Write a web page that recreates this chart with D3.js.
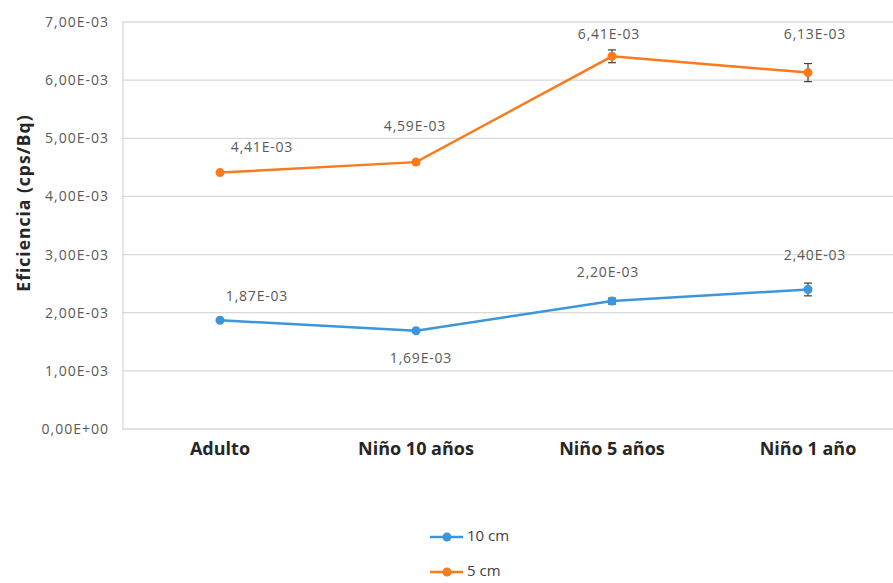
<!DOCTYPE html>
<html><head><meta charset="utf-8">
<script src="https://cdn.jsdelivr.net/npm/d3@7"></script>
<style>body{margin:0;background:#fff}svg{display:block}</style>
</head><body><svg id="c" width="893" height="583"></svg>
<script>
const categories = ["Adulto", "Niño 10 años", "Niño 5 años", "Niño 1 año"];
const seriesNames = ["10 cm", "5 cm"];
const values10cm = [1.87e-3, 1.69e-3, 2.20e-3, 2.40e-3];
const values5cm = [4.41e-3, 4.59e-3, 6.41e-3, 6.13e-3];
const errors10cm = [0.02e-3, 0.02e-3, 0.05e-3, 0.11e-3];
const errors5cm = [0.02e-3, 0.03e-3, 0.11e-3, 0.155e-3];
const yTicks = [0, 1e-3, 2e-3, 3e-3, 4e-3, 5e-3, 6e-3, 7e-3];
const colors = ["#3c96dc", "#fb7a1c"];
// label offsets (layout) per series/point
const labelOffsets10 = [[37, -23], [5, 29], [-4, -28], [7, -33]];
const labelOffsets5 = [[42, -24], [-1, -35], [-3, -21], [7, -37]];

const fmt = v => v.toExponential(2).replace(".", ",").replace(/e([+-])(\d)$/, "E$10$2").toUpperCase();
const FONT = "'Open Sans', sans-serif";

const svg = d3.select("#c");
const x = d3.scaleBand().domain(categories).range([122, 906]);
const y = d3.scaleLinear().domain([0, 7e-3]).range([429, 22]);

// gridlines
svg.append("g").selectAll("line").data(yTicks).join("line")
  .attr("x1", 122).attr("x2", 893).attr("y1", d => y(d)).attr("y2", d => y(d))
  .attr("stroke", "#d9d9d9").attr("stroke-width", 1.3);
// left axis line
svg.append("line").attr("x1", 123).attr("x2", 123).attr("y1", y(7e-3)).attr("y2", y(0))
  .attr("stroke", "#d9d9d9").attr("stroke-width", 1.3);

const yAxis = d3.axisLeft(y).tickValues(yTicks).tickFormat(fmt).tickSize(0).tickPadding(14);
const gy = svg.append("g").attr("transform", "translate(123,0)").call(yAxis);
gy.select(".domain").remove();
gy.selectAll("text").attr("font-family", FONT).attr("font-size", 14).attr("letter-spacing", 1)
  .attr("fill", "#595959");

const xAxis = d3.axisBottom(x).tickSize(0).tickPadding(13);
const gx = svg.append("g").attr("transform", "translate(0,429)").call(xAxis);
gx.select(".domain").remove();
gx.selectAll("text").attr("font-family", FONT).attr("font-size", 18)
  .attr("font-weight", "bold").attr("fill", "#262626");

svg.append("text").attr("transform", "translate(30,203) rotate(-90)")
  .attr("text-anchor", "middle").attr("font-family", FONT)
  .attr("font-size", 17.5).attr("font-weight", "bold").attr("letter-spacing", 1).attr("fill", "#262626")
  .text("Eficiencia (cps/Bq)");

const series = [
  {vals: values10cm, errs: errors10cm, offs: labelOffsets10, color: colors[0]},
  {vals: values5cm, errs: errors5cm, offs: labelOffsets5, color: colors[1]}
];
const cx = c => x(c) + x.bandwidth() / 2;
const line = d3.line().x((d, i) => cx(categories[i])).y(d => y(d));

series.forEach(s => {
  const g = svg.append("g");
  g.append("path").attr("d", line(s.vals)).attr("fill", "none")
    .attr("stroke", s.color).attr("stroke-width", 2.5);
  s.vals.forEach((v, i) => {
    const px = cx(categories[i]);
    const e = s.errs[i];
    g.append("line").attr("x1", px).attr("x2", px).attr("y1", y(v + e)).attr("y2", y(v - e))
      .attr("stroke", "#404040").attr("stroke-width", 1.2);
    [v + e, v - e].forEach(w => g.append("line").attr("x1", px - 4).attr("x2", px + 4)
      .attr("y1", y(w)).attr("y2", y(w)).attr("stroke", "#404040").attr("stroke-width", 1.2));
    g.append("circle").attr("cx", px).attr("cy", y(v)).attr("r", 4.5).attr("fill", s.color);
    g.append("text").attr("x", px + s.offs[i][0]).attr("y", y(v) + s.offs[i][1])
      .attr("text-anchor", "middle").attr("dominant-baseline", "middle")
      .attr("font-family", FONT).attr("font-size", 14).attr("letter-spacing", 0.8).attr("fill", "#595959")
      .text(fmt(v));
  });
});

// legend
const lg = svg.append("g");
seriesNames.forEach((n, i) => {
  const ly = 537 + i * 35;
  lg.append("line").attr("x1", 430).attr("x2", 463).attr("y1", ly).attr("y2", ly)
    .attr("stroke", colors[i]).attr("stroke-width", 2.5);
  lg.append("circle").attr("cx", 447).attr("cy", ly).attr("r", 4.5).attr("fill", colors[i]);
  lg.append("text").attr("x", 467).attr("y", ly).attr("dominant-baseline", "middle")
    .attr("font-family", FONT).attr("font-size", 15).attr("fill", "#404040").text(n);
});
</script></body></html>
